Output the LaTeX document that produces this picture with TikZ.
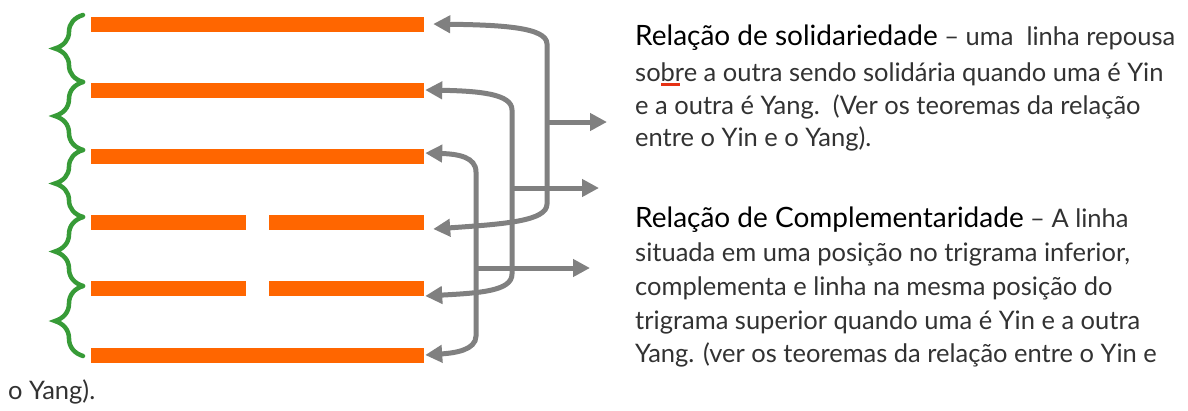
\documentclass[tikz,border=0pt]{standalone}
\usepackage{fontspec}
\setmainfont{Lato}
\usetikzlibrary{arrows.meta,calc,decorations.pathreplacing}
\definecolor{barorange}{HTML}{FF6600}
\definecolor{bracegreen}{RGB}{55,155,55}
\definecolor{conngray}{RGB}{128,128,128}
\definecolor{bodygray}{RGB}{50,50,50}
\definecolor{squiggle}{RGB}{230,50,20}
\newcommand{\ttl}{\color{black}\fontsize{28}{32}\selectfont}
\newcommand{\bdy}{\color{bodygray}\fontsize{25.5}{30}\selectfont}
\tikzset{
  bar/.style={fill=barorange, draw=none, inner sep=0pt, minimum height=15pt},
  fullbar/.style={bar, minimum width=333pt},
  halfbar/.style={bar, minimum width=155pt},
  bracestyle/.style={draw=bracegreen, line width=4.5pt, line cap=round,
    decorate, decoration={brace, amplitude=28pt}},
  conn/.style={draw=conngray, line width=5pt,
    arrows={Triangle[length=17pt,width=17pt]-Triangle[length=17pt,width=17pt]}},
  branch/.style={draw=conngray, line width=5pt,
    arrows={-Triangle[length=17pt,width=17pt]}},
  txt/.style={anchor=base west, inner sep=0pt, font=\bdy}
}
\begin{document}
\begin{tikzpicture}[x=1pt,y=-1pt]
\useasboundingbox (0,0) rectangle (1188,410);
% bars
\node[fullbar] (b1) at (257.5,24) {};
\node[fullbar] (b2) at (257.5,90) {};
\node[fullbar] (b3) at (257.5,156) {};
\node[halfbar] (b4l) at (168.5,222) {};
\node[halfbar] (b4r) at (346.5,222) {};
\node[halfbar] (b5l) at (168.5,288) {};
\node[halfbar] (b5r) at (346.5,288) {};
\node[fullbar] (b6) at (257.5,355) {};
% braces
\draw[bracestyle] (83,82) -- (83,15);
\draw[bracestyle] (83,150) -- (83,82);
\draw[bracestyle] (83,217) -- (83,150);
\draw[bracestyle] (83,286) -- (83,217);
\draw[bracestyle] (83,356) -- (83,286);
% connectors
\draw[conn] ($(b1.east)+(9,0)$) .. controls (500,25) and (547,27) .. (547,44)
  -- (547,204) .. controls (547,221) and (505,224) .. ($(b4r.east)+(9,7)$);
\draw[conn] ($(b2.east)+(1,0)$) .. controls (480,91) and (512,94) .. (512,110)
  -- (512,274) .. controls (512,291) and (480,293) .. ($(b5r.east)+(1,8)$);
\draw[conn] ($(b3.east)+(1,-3)$) .. controls (458,154) and (476,157) .. (476,172)
  -- (476,336) .. controls (476,350) and (455,353) .. ($(b6.east)+(1,0)$);
% branches
\coordinate (ja) at (547,122);
\coordinate (ea) at (607,122);
\coordinate (jb) at (512,188);
\coordinate (eb) at (599,188);
\coordinate (jc) at (476,268);
\coordinate (ec) at (590,268);
\draw[branch] (ja) -- (ea);
\draw[branch] (jb) -- (eb);
\draw[branch] (jc) -- (ec);
% text block 1
\node[txt] (t11) at (635,45) {{\ttl Relação de solidariedade} – uma\ \ linha repousa};
\node[txt] (t12) at (635,81) {sobre a outra sendo solidária quando uma é Yin};
\node[txt] (t13) at (635,114) {e a outra é Yang.\ \ (Ver os teoremas da relação};
\node[txt] (t14) at (635,146) {entre o Yin e o Yang).};
\fill[squiggle] (661,83) rectangle (680,86);
% text block 2
\node[txt] (t21) at (635,227) {{\ttl Relação de Complementaridade} – A linha};
\node[txt] (t22) at (635,261) {situada em uma posição no trigrama inferior,};
\node[txt] (t23) at (635,295) {complementa e linha na mesma posição do};
\node[txt] (t24) at (635,329) {trigrama superior quando uma é Yin e a outra};
\node[txt] (t25) at (635,362) {Yang. (ver os teoremas da relação entre o Yin e};
\node[txt] (t26) at (8,399) {o Yang).};
\end{tikzpicture}
\end{document}
